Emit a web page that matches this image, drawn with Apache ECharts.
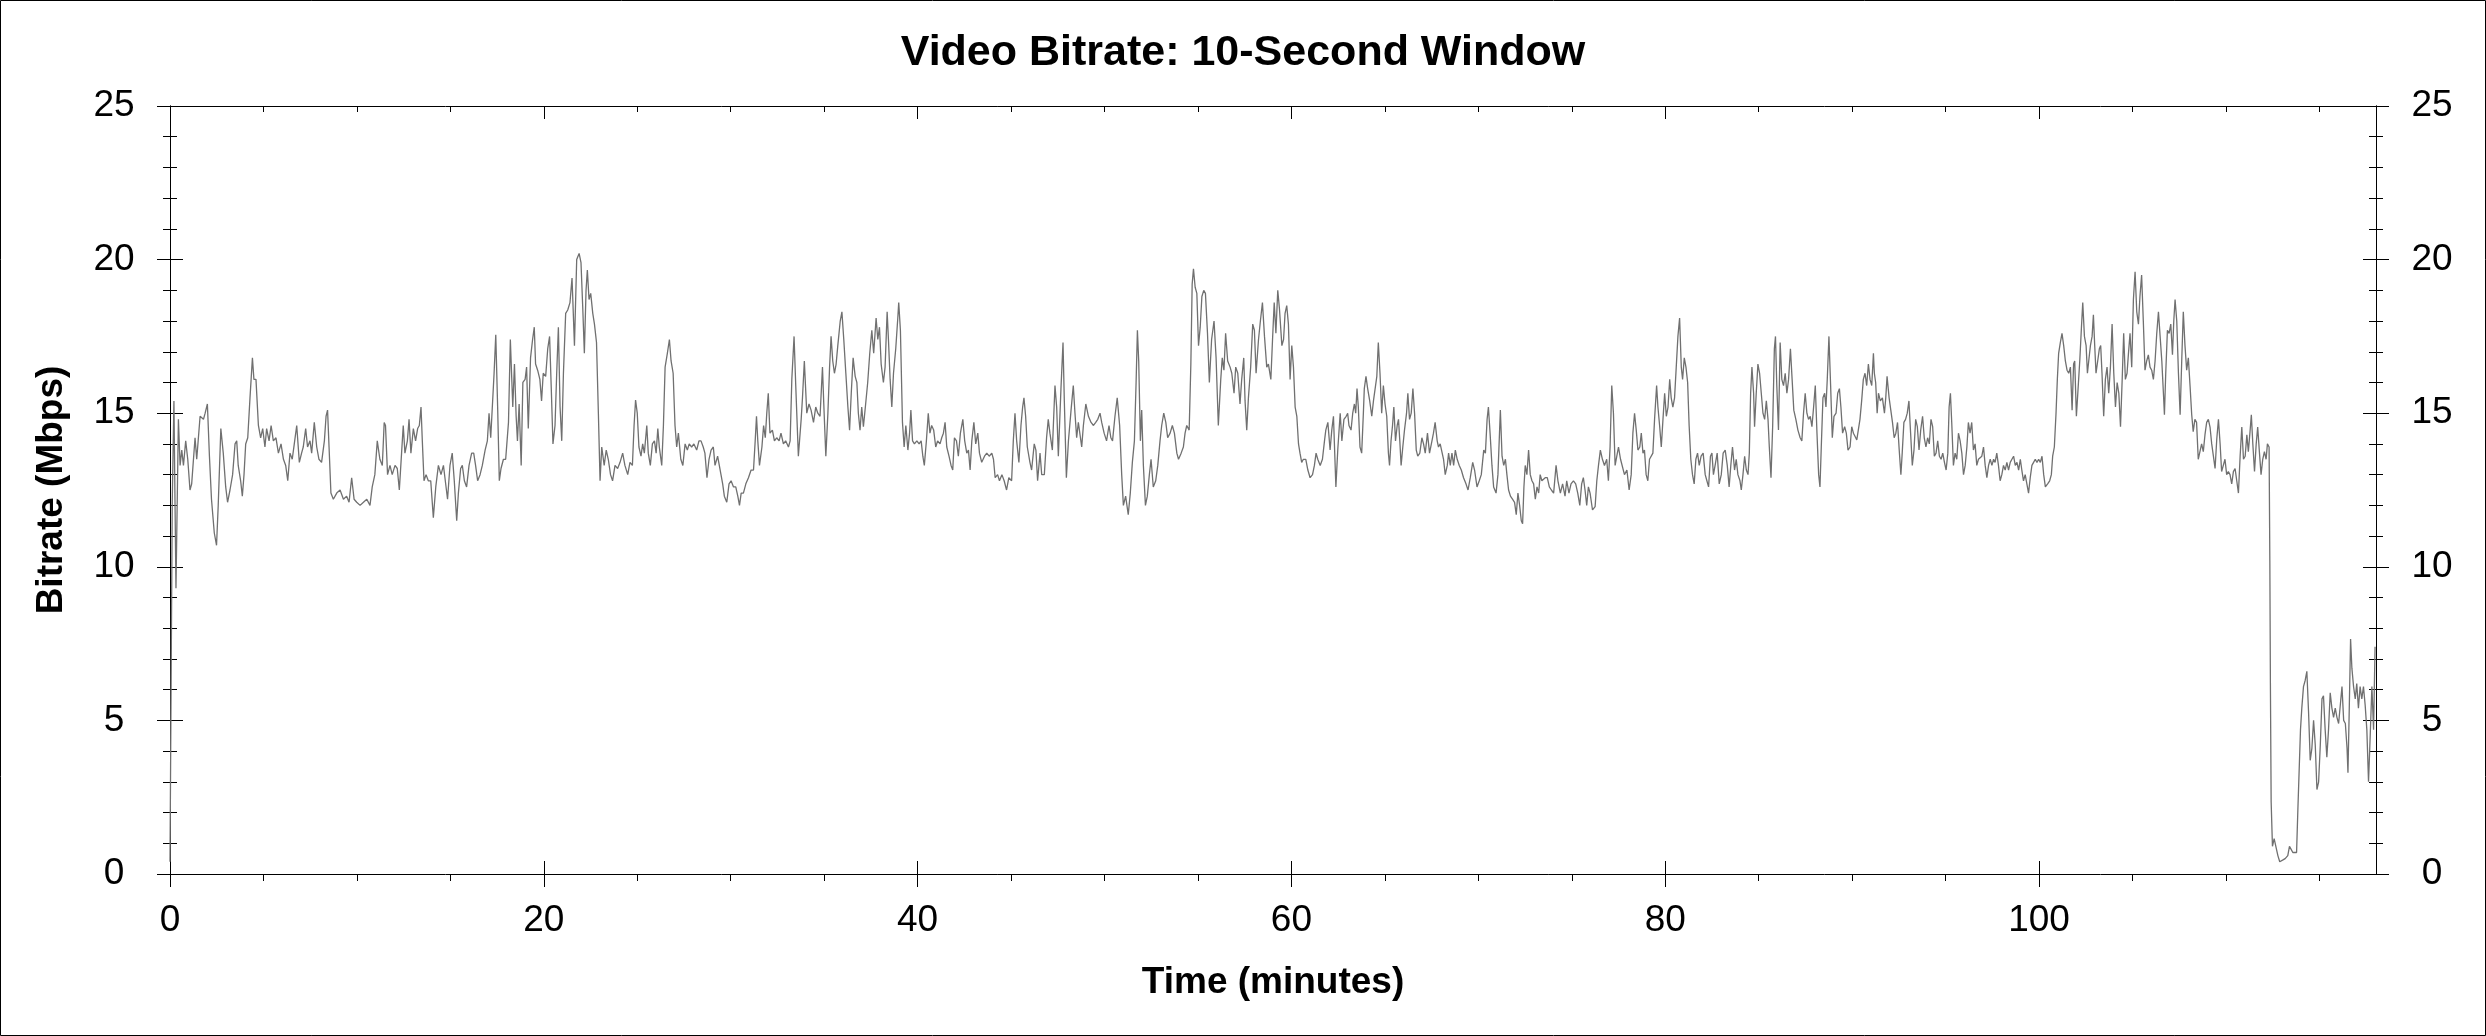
<!DOCTYPE html>
<html>
<head>
<meta charset="utf-8">
<title>Video Bitrate: 10-Second Window</title>
<script src="https://cdn.jsdelivr.net/npm/echarts@6.0.0/dist/echarts.min.js"></script>
<style>
    html, body { margin: 0; padding: 0; background: #fff; }
    #chartData { width: 2486px; height: 1036px; }
</style>
</head>
<body>
<div id="chartData"></div>
<script>
// [minute, Mbps], one array per ~15 minutes
var seg00 = [
    [0, 0.4], [0.12, 12.1], [0.21, 15.4], [0.27, 12.0], [0.32, 9.3], [0.45, 14.8], [0.54, 13.3], [0.63, 13.8],
    [0.72, 13.3], [0.84, 14.1], [0.95, 13.5], [1.07, 12.5], [1.16, 12.7], [1.34, 14.2], [1.43, 13.5], [1.61, 14.9],
    [1.79, 14.8], [1.88, 15.0], [2.0, 15.3], [2.11, 13.6], [2.22, 12.2], [2.37, 11.1], [2.49, 10.7], [2.58, 12.0],
    [2.72, 14.5], [2.85, 13.7], [2.98, 12.6], [3.08, 12.1], [3.21, 12.5], [3.35, 13.0], [3.48, 14.0], [3.57, 14.1],
    [3.65, 13.3], [3.78, 12.8], [3.87, 12.3], [3.96, 13.0], [4.05, 14.0], [4.16, 14.2], [4.28, 15.5], [4.41, 16.8],
    [4.49, 16.1], [4.6, 16.1], [4.73, 14.6], [4.85, 14.2], [4.96, 14.5], [5.08, 13.9], [5.17, 14.5], [5.3, 14.1],
    [5.41, 14.6], [5.53, 14.1], [5.67, 14.2], [5.8, 13.7], [5.94, 14.0], [6.07, 13.5], [6.19, 13.3], [6.3, 12.8],
    [6.42, 13.7], [6.54, 13.5], [6.65, 14.0], [6.78, 14.6], [6.92, 13.4], [7.04, 13.7], [7.13, 13.9], [7.26, 14.5],
    [7.36, 13.9], [7.49, 14.1], [7.58, 13.7], [7.72, 14.7], [7.85, 13.9], [7.97, 13.5], [8.11, 13.4], [8.26, 14.1],
    [8.35, 14.9], [8.43, 15.1], [8.51, 13.9], [8.61, 12.4], [8.74, 12.2], [8.92, 12.4], [9.1, 12.5], [9.28, 12.2],
    [9.45, 12.3], [9.58, 12.1], [9.72, 12.9], [9.85, 12.2], [9.99, 12.1], [10.17, 12.0], [10.35, 12.1], [10.53, 12.2],
    [10.7, 12.0], [10.82, 12.6], [10.96, 13.0], [11.09, 14.1], [11.23, 13.5], [11.36, 13.3], [11.46, 14.7], [11.53, 14.6],
    [11.64, 13.0], [11.77, 13.3], [11.89, 13.0], [12.04, 13.3], [12.16, 13.2], [12.27, 12.5], [12.39, 13.7], [12.48, 14.6],
    [12.57, 13.7], [12.7, 14.1], [12.79, 14.8], [12.89, 13.7], [13.02, 14.5], [13.14, 14.1], [13.25, 14.5], [13.34, 14.6],
    [13.43, 15.2], [13.5, 14.1], [13.59, 12.8], [13.7, 13.0], [13.82, 12.8], [13.95, 12.8], [14.09, 11.6], [14.22, 12.6],
    [14.36, 13.3], [14.5, 13.0], [14.63, 13.3]
];
var seg15 = [
    [14.71, 12.9], [14.85, 12.2], [14.98, 13.3], [15.1, 13.7], [15.21, 12.8], [15.34, 11.5], [15.43, 12.4], [15.55, 13.2],
    [15.64, 13.3], [15.75, 12.8], [15.87, 12.6], [16.0, 13.3], [16.14, 13.7], [16.25, 13.7], [16.35, 13.3], [16.46, 12.8],
    [16.59, 13.0], [16.71, 13.3], [16.86, 13.8], [16.98, 14.1], [17.07, 15.0], [17.16, 14.2], [17.25, 14.2], [17.34, 16.3],
    [17.43, 17.55], [17.53, 15.2], [17.62, 12.8], [17.71, 13.2], [17.84, 13.5], [17.96, 13.5], [18.11, 14.7], [18.21, 17.4],
    [18.34, 15.2], [18.43, 16.6], [18.52, 14.9], [18.59, 14.1], [18.68, 15.3], [18.79, 13.3], [18.88, 16.0], [19.0, 16.1],
    [19.08, 16.5], [19.17, 14.5], [19.29, 16.8], [19.4, 17.4], [19.49, 17.8], [19.56, 16.6], [19.67, 16.4], [19.79, 16.1],
    [19.88, 15.4], [19.97, 16.3], [20.1, 16.2], [20.21, 17.1], [20.31, 17.5], [20.4, 15.8], [20.49, 14.0], [20.6, 14.6],
    [20.69, 16.3], [20.78, 17.8], [20.87, 15.2], [20.96, 14.1], [21.05, 16.3], [21.17, 18.25], [21.28, 18.36], [21.4, 18.6],
    [21.51, 19.4], [21.64, 17.2], [21.76, 20.0], [21.89, 20.2], [21.99, 19.9], [22.08, 18.5], [22.17, 16.95], [22.26, 19.0],
    [22.33, 19.66], [22.42, 18.7], [22.51, 18.9], [22.62, 18.25], [22.71, 17.9], [22.82, 17.3], [22.92, 15.0], [23.01, 12.8],
    [23.1, 13.9], [23.23, 13.3], [23.34, 13.8], [23.45, 13.5], [23.57, 13.0], [23.68, 12.8], [23.81, 13.3], [23.95, 13.2],
    [24.08, 13.4], [24.22, 13.7], [24.34, 13.3], [24.49, 13.0], [24.61, 13.4], [24.74, 13.3], [24.83, 14.6], [24.91, 15.43],
    [25.0, 15.0], [25.09, 13.9], [25.2, 13.6], [25.29, 14.0], [25.38, 13.7], [25.51, 14.6], [25.59, 13.7], [25.7, 13.3],
    [25.81, 14.0], [25.92, 14.1], [26.01, 13.7], [26.1, 14.5], [26.18, 13.9], [26.31, 13.3], [26.4, 14.6], [26.49, 16.5],
    [26.61, 16.95], [26.72, 17.4], [26.81, 16.7], [26.92, 16.3], [27.02, 14.6], [27.11, 13.9], [27.2, 14.35], [27.33, 13.5],
    [27.44, 13.3], [27.56, 14.0], [27.68, 13.8], [27.78, 14.0], [27.91, 13.9], [28.03, 14.0], [28.18, 13.8], [28.3, 14.1],
    [28.41, 14.1], [28.53, 13.9], [28.62, 13.7], [28.73, 12.9], [28.84, 13.5], [28.95, 13.8], [29.07, 13.9], [29.16, 13.3],
    [29.3, 13.6], [29.39, 13.3], [29.48, 13.0], [29.57, 12.7], [29.66, 12.3]
];
var seg30 = [
    [29.79, 12.1], [29.91, 12.7], [30.02, 12.8], [30.15, 12.6], [30.27, 12.6], [30.38, 12.3], [30.47, 12.0], [30.56, 12.4],
    [30.68, 12.4], [30.81, 12.7], [30.95, 12.9], [31.09, 13.15], [31.22, 13.15], [31.31, 14.1], [31.38, 14.9], [31.45, 14.1],
    [31.54, 13.3], [31.67, 13.9], [31.76, 14.6], [31.85, 14.2], [31.93, 15.0], [32.01, 15.65], [32.1, 14.35], [32.23, 14.45],
    [32.34, 14.1], [32.46, 14.2], [32.59, 14.1], [32.69, 14.35], [32.82, 14.0], [32.94, 14.1], [33.09, 13.9], [33.18, 14.1],
    [33.27, 16.1], [33.39, 17.5], [33.48, 15.9], [33.62, 13.6], [33.77, 14.8], [33.84, 15.5], [33.94, 16.7], [34.07, 15.0],
    [34.19, 15.3], [34.3, 15.1], [34.43, 14.7], [34.55, 15.2], [34.66, 15.0], [34.78, 14.9], [34.91, 16.5], [34.98, 15.3],
    [35.09, 13.6], [35.2, 15.0], [35.29, 16.5], [35.37, 17.5], [35.46, 16.7], [35.55, 16.3], [35.64, 16.6], [35.73, 17.2],
    [35.86, 18.0], [35.95, 18.3], [36.05, 17.4], [36.16, 16.3], [36.27, 15.2], [36.36, 14.45], [36.45, 15.65], [36.55, 16.8],
    [36.66, 16.2], [36.75, 16.0], [36.83, 15.0], [36.92, 14.45], [37.01, 15.2], [37.1, 14.56], [37.22, 15.3], [37.33, 16.0],
    [37.44, 16.95], [37.55, 17.7], [37.65, 16.95], [37.78, 18.1], [37.87, 17.4], [37.96, 17.8], [38.05, 16.6], [38.17, 16.0],
    [38.26, 16.5], [38.37, 18.3], [38.44, 17.4], [38.53, 16.1], [38.62, 15.2], [38.71, 16.3], [38.83, 17.1], [38.94, 18.1],
    [38.99, 18.6], [39.08, 17.7], [39.19, 14.7], [39.28, 13.9], [39.37, 14.6], [39.48, 13.8], [39.57, 14.35], [39.64, 15.1],
    [39.73, 14.1], [39.83, 14.0], [39.96, 14.1], [40.08, 14.0], [40.19, 14.1], [40.28, 13.6], [40.36, 13.3], [40.47, 14.1],
    [40.57, 15.0], [40.66, 14.35], [40.75, 14.6], [40.86, 14.45], [40.97, 13.9], [41.07, 14.1], [41.2, 14.0], [41.29, 14.2],
    [41.38, 14.35], [41.47, 14.7], [41.56, 13.9], [41.68, 13.6], [41.79, 13.3], [41.88, 13.15], [41.97, 14.2], [42.08, 14.1],
    [42.18, 13.6], [42.29, 14.35], [42.42, 14.8], [42.52, 14.1], [42.63, 13.7], [42.72, 13.8], [42.81, 13.15], [42.9, 14.1],
    [43.01, 14.7], [43.11, 14.0], [43.22, 14.35], [43.31, 13.7], [43.43, 13.4], [43.58, 13.6], [43.7, 13.7], [43.83, 13.6],
    [43.97, 13.7], [44.06, 13.5], [44.15, 12.9], [44.28, 13.0], [44.38, 12.8], [44.51, 13.0], [44.63, 12.8]
];
var seg45 = [
    [44.67, 12.8], [44.76, 12.5], [44.88, 12.9], [45.03, 12.8], [45.12, 14.1], [45.21, 15.0], [45.3, 14.1], [45.42, 13.4],
    [45.53, 14.6], [45.62, 15.2], [45.69, 15.5], [45.78, 14.9], [45.87, 13.9], [46.01, 13.4], [46.1, 13.15], [46.24, 14.0],
    [46.33, 13.8], [46.42, 12.8], [46.55, 13.7], [46.64, 13.0], [46.78, 13.0], [46.9, 14.2], [46.99, 14.8], [47.08, 14.35],
    [47.21, 13.8], [47.35, 15.9], [47.44, 15.2], [47.53, 13.6], [47.67, 15.8], [47.78, 17.3], [47.85, 15.4], [47.96, 12.9],
    [48.07, 14.1], [48.21, 15.1], [48.33, 15.9], [48.42, 15.0], [48.51, 14.2], [48.6, 14.7], [48.78, 13.9], [48.87, 14.6],
    [49.0, 15.3], [49.14, 14.9], [49.28, 14.7], [49.41, 14.6], [49.53, 14.7], [49.64, 14.8], [49.76, 15.0], [49.85, 14.7],
    [49.98, 14.35], [50.11, 14.1], [50.24, 14.6], [50.34, 14.2], [50.43, 14.1], [50.56, 14.9], [50.68, 15.5], [50.81, 14.6],
    [50.92, 13.0], [51.01, 12.0], [51.13, 12.3], [51.27, 11.7], [51.38, 12.4], [51.49, 13.4], [51.6, 14.1], [51.69, 16.0],
    [51.76, 17.7], [51.83, 16.7], [51.92, 14.1], [51.99, 15.1], [52.08, 13.3], [52.19, 12.0], [52.29, 12.3], [52.4, 13.0],
    [52.49, 13.5], [52.61, 12.6], [52.74, 12.8], [52.85, 13.3], [52.97, 14.1], [53.06, 14.6], [53.17, 15.0], [53.28, 14.7],
    [53.38, 14.2], [53.51, 14.35], [53.63, 14.6], [53.74, 14.35], [53.87, 13.7], [53.96, 13.5], [54.1, 13.7], [54.22, 13.9],
    [54.31, 14.35], [54.4, 14.6], [54.53, 14.45], [54.62, 16.6], [54.69, 19.2], [54.76, 19.7], [54.85, 19.1], [54.94, 18.9],
    [55.03, 17.2], [55.12, 17.8], [55.21, 18.8], [55.31, 19.0], [55.4, 18.9], [55.51, 17.6], [55.61, 16.0], [55.73, 17.4],
    [55.86, 18.0], [55.97, 16.8], [56.09, 14.6], [56.22, 16.1], [56.3, 16.8], [56.39, 16.4], [56.48, 17.6], [56.59, 16.7],
    [56.72, 16.5], [56.81, 16.3], [56.93, 15.65], [57.02, 16.5], [57.13, 16.3], [57.25, 15.3], [57.34, 16.1], [57.45, 16.8],
    [57.52, 15.4], [57.61, 14.45], [57.7, 15.5], [57.82, 16.5], [57.93, 17.9], [58.02, 17.7], [58.11, 16.3], [58.24, 17.4],
    [58.34, 18.0], [58.45, 18.6], [58.56, 17.5], [58.68, 16.5], [58.77, 16.6], [58.9, 16.1], [58.99, 17.4], [59.08, 18.6],
    [59.17, 17.6], [59.27, 19.0], [59.36, 18.4], [59.49, 17.2], [59.58, 17.4]
];
var seg60 = [
    [59.66, 18.25], [59.75, 18.5], [59.84, 17.9], [59.93, 16.1], [60.02, 17.2], [60.11, 16.5], [60.2, 15.2], [60.29, 14.9],
    [60.38, 14.0], [60.46, 13.7], [60.55, 13.4], [60.64, 13.5], [60.77, 13.5], [60.88, 13.15], [61.0, 12.9], [61.13, 13.0],
    [61.23, 13.3], [61.32, 13.7], [61.41, 13.5], [61.54, 13.3], [61.66, 13.5], [61.77, 14.1], [61.84, 14.45], [61.95, 14.7],
    [62.07, 13.8], [62.16, 14.45], [62.25, 14.9], [62.38, 12.6], [62.48, 13.8], [62.61, 15.0], [62.7, 14.1], [62.81, 14.8],
    [62.93, 14.9], [63.01, 15.0], [63.08, 14.6], [63.19, 14.45], [63.28, 15.0], [63.37, 15.3], [63.44, 15.0], [63.51, 15.8],
    [63.58, 15.2], [63.67, 13.9], [63.76, 13.7], [63.85, 15.0], [63.9, 15.8], [63.99, 16.2], [64.08, 15.8], [64.19, 15.4],
    [64.3, 14.9], [64.39, 15.4], [64.48, 15.4], [64.57, 16.2], [64.65, 17.3], [64.74, 16.3], [64.83, 15.0], [64.92, 15.9],
    [65.01, 15.3], [65.1, 14.9], [65.19, 13.7], [65.25, 13.3], [65.33, 14.1], [65.41, 14.6], [65.48, 15.2], [65.57, 14.1],
    [65.66, 14.6], [65.73, 14.8], [65.8, 14.1], [65.87, 13.3], [65.96, 13.9], [66.05, 14.45], [66.16, 15.0], [66.23, 15.65],
    [66.32, 14.8], [66.41, 15.0], [66.5, 15.8], [66.59, 15.0], [66.68, 13.8], [66.76, 13.6], [66.87, 13.7], [66.98, 14.2],
    [67.07, 14.0], [67.16, 13.7], [67.28, 14.35], [67.39, 13.7], [67.52, 14.1], [67.6, 14.35], [67.69, 14.7], [67.8, 14.1],
    [67.87, 13.9], [67.96, 14.0], [68.05, 14.0], [68.14, 13.5], [68.23, 13.0], [68.34, 13.3], [68.41, 13.7], [68.5, 13.3],
    [68.59, 13.7], [68.68, 13.3], [68.77, 13.8], [68.87, 13.5], [68.98, 13.3], [69.09, 13.15], [69.21, 12.9], [69.34, 12.7],
    [69.45, 12.5], [69.57, 12.9], [69.7, 13.4], [69.8, 13.15], [69.93, 12.6], [70.05, 12.8], [70.16, 13.0], [70.29, 13.8],
    [70.38, 13.7], [70.47, 14.8], [70.54, 15.2], [70.63, 14.35], [70.73, 13.3], [70.82, 12.6], [70.95, 12.4], [71.05, 13.0],
    [71.18, 15.1], [71.27, 13.6], [71.36, 13.3], [71.45, 13.5], [71.53, 13.0], [71.62, 12.5], [71.72, 12.3], [71.83, 12.2],
    [71.94, 12.1], [72.03, 11.7], [72.12, 12.4], [72.21, 12.0], [72.3, 11.5], [72.37, 11.4], [72.44, 12.6], [72.51, 13.3],
    [72.6, 13.0], [72.69, 13.8], [72.78, 13.0], [72.87, 12.8], [72.96, 12.7], [73.05, 12.2], [73.14, 12.6], [73.23, 12.4],
    [73.31, 13.0], [73.4, 12.8], [73.49, 12.8], [73.58, 12.9], [73.69, 12.9], [73.8, 12.6], [73.91, 12.5], [74.03, 12.4],
    [74.16, 13.3], [74.26, 12.8], [74.39, 12.4], [74.51, 12.7]
];
var seg75 = [
    [74.64, 12.3], [74.73, 12.8], [74.85, 12.4], [74.96, 12.7], [75.09, 12.8], [75.21, 12.7], [75.32, 12.4], [75.43, 12.0],
    [75.53, 12.7], [75.62, 12.9], [75.71, 12.5], [75.8, 12.0], [75.89, 12.6], [75.98, 12.4], [76.11, 11.85], [76.25, 11.96],
    [76.34, 12.8], [76.43, 13.3], [76.53, 13.8], [76.64, 13.5], [76.75, 13.3], [76.87, 13.5], [76.96, 12.8], [77.05, 13.9],
    [77.14, 15.9], [77.23, 15.0], [77.32, 13.3], [77.41, 13.6], [77.5, 13.9], [77.61, 13.5], [77.71, 13.5], [77.82, 13.0],
    [77.95, 13.15], [78.07, 12.5], [78.18, 13.0], [78.27, 14.35], [78.36, 15.0], [78.45, 14.45], [78.54, 13.8], [78.64, 13.9],
    [78.72, 14.35], [78.81, 13.7], [78.89, 13.8], [78.98, 13.0], [79.07, 12.8], [79.16, 13.5], [79.25, 13.5], [79.34, 13.7],
    [79.43, 14.8], [79.54, 15.9], [79.61, 15.2], [79.7, 14.6], [79.79, 13.9], [79.88, 14.8], [79.97, 15.65], [80.06, 14.9],
    [80.15, 15.2], [80.24, 16.1], [80.32, 15.5], [80.41, 15.2], [80.5, 15.5], [80.59, 16.5], [80.68, 17.5], [80.77, 18.1],
    [80.86, 16.5], [80.93, 16.1], [81.02, 16.8], [81.11, 16.5], [81.2, 16.0], [81.28, 14.6], [81.37, 13.5], [81.46, 13.0],
    [81.55, 12.7], [81.64, 13.5], [81.73, 13.7], [81.82, 13.3], [81.92, 13.6], [82.03, 13.7], [82.14, 13.0], [82.23, 12.8],
    [82.32, 12.6], [82.42, 13.6], [82.5, 13.7], [82.58, 13.0], [82.67, 13.3], [82.78, 13.7], [82.89, 12.7], [83.0, 13.0],
    [83.1, 13.7], [83.21, 13.8], [83.32, 13.3], [83.42, 12.6], [83.51, 13.3], [83.6, 13.9], [83.71, 13.15], [83.8, 13.5],
    [83.89, 13.0], [84.0, 12.8], [84.07, 12.5], [84.16, 13.0], [84.25, 13.6], [84.34, 13.15], [84.43, 13.0], [84.5, 13.7],
    [84.57, 15.65], [84.64, 16.5], [84.73, 15.65], [84.78, 14.56], [84.87, 15.65], [84.96, 16.6], [85.05, 16.3], [85.14, 15.65],
    [85.23, 15.0], [85.32, 14.8], [85.41, 15.4], [85.5, 14.8], [85.57, 13.9], [85.66, 12.9], [85.75, 14.6], [85.84, 17.1],
    [85.9, 17.5], [85.97, 15.9], [86.06, 14.45], [86.15, 17.3], [86.24, 16.1], [86.33, 15.9], [86.42, 16.3], [86.51, 15.65],
    [86.6, 16.1], [86.7, 17.1], [86.79, 16.1], [86.88, 15.1], [86.99, 14.8], [87.1, 14.45], [87.22, 14.2], [87.31, 14.1],
    [87.4, 15.0], [87.49, 15.65], [87.58, 15.0], [87.67, 14.8], [87.76, 14.9], [87.85, 14.56], [87.94, 15.2], [88.03, 15.9],
    [88.12, 14.35], [88.21, 13.0], [88.28, 12.6], [88.35, 13.9], [88.44, 15.5], [88.53, 15.65], [88.6, 15.2], [88.67, 16.1],
    [88.76, 17.5], [88.85, 15.9], [88.94, 14.2], [89.03, 14.9], [89.14, 15.0], [89.23, 15.65], [89.32, 15.8], [89.4, 15.2],
    [89.49, 14.35], [89.6, 14.56], [89.69, 14.35], [89.78, 13.8]
];
var seg90 = [
    [89.89, 13.9], [89.98, 14.56], [90.07, 14.35], [90.16, 14.24], [90.25, 14.13], [90.34, 14.13], [90.42, 14.8], [90.51, 15.4],
    [90.6, 16.1], [90.69, 16.3], [90.78, 15.9], [90.87, 16.6], [90.96, 16.1], [91.05, 15.9], [91.14, 16.95], [91.19, 16.3],
    [91.26, 16.0], [91.34, 15.0], [91.41, 15.65], [91.51, 15.4], [91.62, 15.5], [91.73, 15.0], [91.8, 15.5], [91.87, 16.2],
    [91.98, 15.5], [92.07, 15.1], [92.16, 14.7], [92.25, 14.2], [92.34, 14.35], [92.43, 14.7], [92.52, 13.8], [92.61, 13.0],
    [92.68, 13.7], [92.77, 14.7], [92.86, 14.8], [92.95, 15.0], [93.04, 15.4], [93.13, 14.35], [93.22, 13.3], [93.31, 13.8],
    [93.4, 14.8], [93.49, 14.56], [93.58, 13.8], [93.67, 14.45], [93.77, 14.9], [93.86, 14.2], [93.95, 13.9], [94.04, 14.2],
    [94.13, 14.0], [94.22, 14.8], [94.31, 14.56], [94.4, 13.6], [94.49, 13.7], [94.58, 14.1], [94.67, 13.6], [94.76, 13.5],
    [94.85, 13.7], [94.94, 13.4], [95.03, 13.15], [95.12, 13.7], [95.19, 15.2], [95.26, 15.65], [95.33, 14.7], [95.42, 13.3],
    [95.51, 13.7], [95.6, 13.5], [95.69, 14.35], [95.78, 14.1], [95.87, 13.7], [95.96, 13.0], [96.05, 13.3], [96.14, 13.9],
    [96.22, 14.7], [96.31, 14.35], [96.4, 14.7], [96.49, 13.8], [96.58, 14.0], [96.67, 13.3], [96.76, 13.5], [96.85, 13.5],
    [96.94, 13.6], [97.03, 13.9], [97.12, 13.3], [97.21, 12.9], [97.3, 13.3], [97.39, 13.5], [97.48, 13.3], [97.57, 13.5],
    [97.65, 13.4], [97.74, 13.7], [97.83, 13.3], [97.92, 12.8], [98.01, 13.0], [98.1, 13.3], [98.19, 13.15], [98.28, 13.4],
    [98.37, 13.15], [98.46, 13.4], [98.55, 13.5], [98.64, 13.6], [98.73, 13.3], [98.82, 13.4], [98.91, 13.15], [99.0, 13.5],
    [99.08, 13.15], [99.17, 12.8], [99.26, 13.0], [99.35, 12.7], [99.44, 12.4], [99.53, 12.9], [99.62, 13.3], [99.71, 13.4],
    [99.8, 13.5], [99.89, 13.4], [99.98, 13.5], [100.07, 13.4], [100.16, 13.6], [100.25, 13.0], [100.34, 12.6], [100.46, 12.7],
    [100.57, 12.8], [100.66, 13.0], [100.73, 13.6], [100.82, 13.9], [100.91, 15.0], [100.98, 16.1], [101.05, 16.95], [101.14, 17.3],
    [101.23, 17.6], [101.32, 17.2], [101.41, 16.7], [101.5, 16.4], [101.59, 16.3], [101.68, 16.5], [101.77, 15.1], [101.85, 16.6],
    [101.91, 16.7], [102.0, 14.9], [102.09, 15.8], [102.18, 16.7], [102.27, 17.8], [102.34, 18.6], [102.43, 17.5], [102.52, 17.2],
    [102.59, 16.3], [102.66, 16.7], [102.75, 17.2], [102.84, 17.5], [102.91, 18.2], [102.98, 17.2], [103.05, 16.3], [103.14, 16.7],
    [103.23, 17.1], [103.3, 17.2], [103.37, 16.3], [103.46, 14.9], [103.55, 16.1], [103.64, 16.5], [103.73, 15.65], [103.82, 16.5],
    [103.91, 17.9], [104.0, 16.3], [104.09, 15.2], [104.18, 16.0], [104.27, 15.65], [104.36, 14.56], [104.45, 16.1], [104.53, 17.6],
    [104.62, 16.1], [104.71, 16.3]
];
var seg105 = [
    [104.78, 16.9], [104.87, 17.6], [104.96, 16.5], [105.05, 18.7], [105.14, 19.6], [105.23, 18.3], [105.32, 17.9], [105.4, 18.8],
    [105.49, 19.5], [105.58, 18.0], [105.67, 16.4], [105.76, 16.7], [105.85, 16.9], [105.94, 16.5], [106.03, 16.4], [106.12, 16.1],
    [106.21, 16.7], [106.3, 17.6], [106.39, 18.3], [106.48, 17.5], [106.57, 16.7], [106.66, 15.6], [106.71, 14.95], [106.78, 16.3],
    [106.87, 17.7], [106.96, 17.6], [107.05, 17.9], [107.14, 16.9], [107.21, 18.0], [107.28, 18.7], [107.37, 18.0], [107.46, 16.3],
    [107.55, 14.95], [107.64, 16.8], [107.72, 18.3], [107.81, 17.2], [107.9, 16.4], [107.99, 16.8], [108.08, 15.9], [108.17, 14.95],
    [108.25, 14.4], [108.34, 14.8], [108.43, 14.7], [108.52, 13.5], [108.61, 13.75], [108.7, 14.0], [108.79, 13.75], [108.88, 14.3],
    [108.97, 14.7], [109.06, 14.8], [109.15, 14.55], [109.24, 14.0], [109.33, 13.6], [109.42, 13.2], [109.51, 14.15], [109.6, 14.8],
    [109.69, 14.0], [109.77, 13.1], [109.86, 13.1], [109.95, 13.5], [110.04, 13.0], [110.13, 13.1], [110.22, 13.0], [110.31, 12.7],
    [110.4, 13.1], [110.49, 13.2], [110.58, 12.8], [110.67, 12.4], [110.76, 13.6], [110.85, 14.55], [110.94, 13.5], [111.03, 13.6],
    [111.12, 14.3], [111.2, 13.75], [111.29, 14.4], [111.36, 14.95], [111.44, 14.0], [111.53, 13.1], [111.62, 14.0], [111.7, 14.55],
    [111.79, 13.75], [111.88, 13.0], [111.97, 13.5], [112.06, 13.75], [112.15, 13.5], [112.22, 14.0], [112.31, 13.9], [112.35, 10.2],
    [112.38, 6.2], [112.42, 2.35], [112.49, 0.9], [112.58, 1.15], [112.67, 1.15], [112.78, 0.6], [112.88, 0.4], [113.03, 0.45],
    [113.17, 0.5], [113.31, 0.6], [113.4, 0.9], [113.49, 0.8], [113.58, 0.7], [113.67, 0.75], [113.78, 0.7], [113.85, 2.1],
    [113.92, 3.4], [113.99, 4.7], [114.06, 5.4], [114.15, 6.1], [114.24, 6.3], [114.33, 6.6], [114.42, 5.3], [114.51, 3.7],
    [114.6, 4.1], [114.69, 5.0], [114.78, 4.2], [114.87, 2.75], [114.96, 3.0], [115.05, 4.2], [115.14, 5.7], [115.22, 5.8],
    [115.31, 4.7], [115.4, 3.8], [115.49, 4.7], [115.58, 5.9], [115.67, 5.4], [115.76, 5.1], [115.85, 5.4], [115.94, 5.1],
    [116.03, 4.9], [116.12, 5.5], [116.21, 6.1], [116.3, 5.0], [116.39, 4.9], [116.48, 4.1], [116.53, 3.3], [116.6, 5.4],
    [116.67, 7.65], [116.74, 6.7], [116.83, 6.1], [116.92, 5.7], [117.0, 6.2], [117.09, 5.4], [117.18, 6.1], [117.27, 5.7],
    [117.36, 6.1], [117.45, 5.5], [117.54, 4.7], [117.63, 3.0], [117.72, 4.5], [117.81, 6.1], [117.9, 4.7], [117.98, 7.4]
];

// axis marks
var xMax = 118.03;
var xMajorTicks = [0, 20, 40, 60, 80, 100];
var xMinorTicks = [5, 10, 15, 25, 30, 35, 45, 50, 55, 65, 70, 75, 85, 90, 95, 105, 110, 115];
var yMax = 25;
var yStep = 5;

var fontName = "'Liberation Sans', Arial, sans-serif";

var bitrateLine = [].concat(seg00, seg15, seg30, seg45, seg60, seg75, seg90, seg105);

// one x axis: position, ticks inside or not, tick length, which tick values
var makeXAxis = function (options) {
    var options = options || {};
    return {
        type: 'value',
        position: options.position || 'bottom',
        min: 0,
        max: xMax,
        axisLine: {
            show: !!options.line,
            onZero: false,
            lineStyle: {color: '#000', width: 1}
        },
        axisTick: {
            show: true,
            inside: !!options.inside,
            length: options.length,
            customValues: options.ticks,
            lineStyle: {color: '#000', width: 1}
        },
        axisLabel: options.labels ? {
            show: true,
            customValues: xMajorTicks,
            margin: 28,
            color: '#000',
            fontSize: 37,
            fontFamily: fontName
        } : {show: false},
        splitLine: {show: false},
        name: options.name || '',
        nameLocation: 'middle',
        nameGap: 90,
        nameTextStyle: {color: '#000', fontSize: 37, fontWeight: 'bold', fontFamily: fontName}
    };
};

// one y axis: major ticks every 5, minor ticks every 1
var makeYAxis = function (options) {
    var options = options || {};
    return {
        type: 'value',
        position: options.position,
        min: 0,
        max: yMax,
        interval: yStep,
        axisLine: {
            show: true,
            onZero: false,
            lineStyle: {color: '#000', width: 1}
        },
        axisTick: {
            show: true,
            inside: !!options.inside,
            length: 13,
            lineStyle: {color: '#000', width: 1}
        },
        minorTick: {
            show: true,
            splitNumber: 5,
            length: 7,
            lineStyle: {color: '#000', width: 1}
        },
        axisLabel: options.labels ? {
            show: true,
            align: 'center',
            margin: 56,
            color: '#000',
            fontSize: 37,
            fontFamily: fontName
        } : {show: false},
        splitLine: {show: false},
        minorSplitLine: {show: false},
        name: options.name || '',
        nameLocation: 'middle',
        nameGap: 100,
        nameTextStyle: {color: '#000', fontSize: 37, fontWeight: 'bold', fontFamily: fontName}
    };
};

var myChart = echarts.init(document.getElementById('chartData'), null, {renderer: 'canvas'});

var option = {
    animation: false,
    backgroundColor: '#fff',
    title: {
        text: 'Video Bitrate: 10-Second Window',
        left: 'center',
        top: 27,
        textStyle: {color: '#000', fontSize: 43, fontWeight: 'bold', fontFamily: fontName}
    },
    grid: {
        left: 170,
        right: 110,
        top: 106,
        bottom: 162,
        containLabel: false
    },
    graphic: [{
        // thin frame round the whole picture
        type: 'rect',
        silent: true,
        shape: {x: 0.5, y: 0.5, width: 2485, height: 1035},
        style: {fill: 'none', stroke: '#000', lineWidth: 1}
    }],
    xAxis: [
        makeXAxis({position: 'bottom', line: true, inside: false, length: 13, ticks: xMajorTicks, labels: true, name: 'Time (minutes)'}),
        makeXAxis({position: 'bottom', inside: true, length: 13, ticks: xMajorTicks}),
        makeXAxis({position: 'bottom', inside: false, length: 7, ticks: xMinorTicks}),
        makeXAxis({position: 'top', line: true, inside: true, length: 13, ticks: xMajorTicks}),
        makeXAxis({position: 'top', inside: true, length: 6, ticks: xMinorTicks})
    ],
    yAxis: [
        makeYAxis({position: 'left', inside: false, labels: true, name: 'Bitrate (Mbps)'}),
        makeYAxis({position: 'left', inside: true}),
        makeYAxis({position: 'right', inside: false, labels: true}),
        makeYAxis({position: 'right', inside: true})
    ],
    series: [{
        name: 'Bitrate',
        type: 'line',
        xAxisIndex: 0,
        yAxisIndex: 0,
        symbol: 'none',
        showSymbol: false,
        silent: true,
        lineStyle: {color: '#707070', width: 1.3},
        data: bitrateLine
    }]
};

myChart.setOption(option);
</script>
</body>
</html>
